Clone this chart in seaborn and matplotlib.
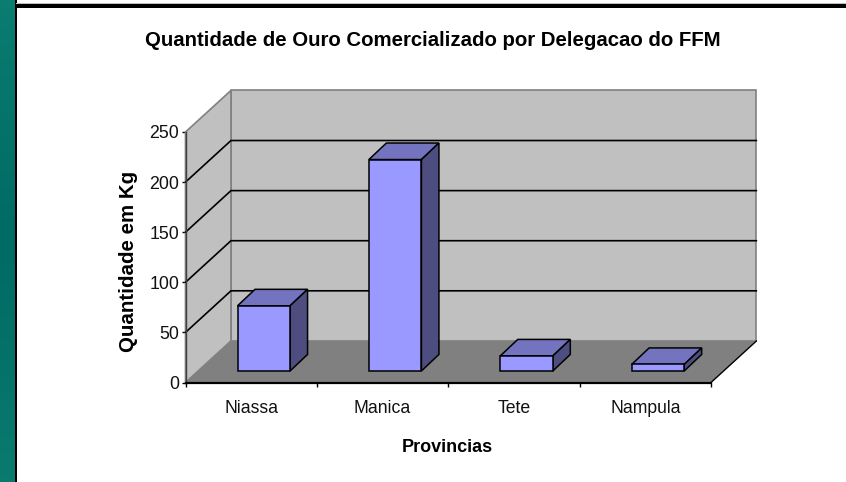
import matplotlib
matplotlib.use("Agg")
import matplotlib.pyplot as plt
from matplotlib.colors import LinearSegmentedColormap
from matplotlib.patches import Polygon, Rectangle
import numpy as np
import seaborn as sns

# Dados
provincias = ["Niassa", "Manica", "Tete", "Nampula"]
ouro_kg = [65, 211, 15, 6.5]
y_ticks = [0, 50, 100, 150, 200, 250]

titulo = "Quantidade de Ouro Comercializado por Delegacao do FFM"
x_titulo = "Provincias"
y_titulo = "Quantidade em Kg"

# Cores
WALL = "#C0C0C0"
FLOOR = "#808080"
FACE = "#9999FF"
TOP = "#7373BF"
SIDE = "#4D4D80"

W, H = 846, 482

sns.set_theme(style="white")
plt.rcParams["font.family"] = ["Liberation Sans", "DejaVu Sans"]

fig = plt.figure(figsize=(W / 100, H / 100), dpi=100, facecolor="white")

# Moldura do slide
faixa = fig.add_axes([0, 0, 15 / W, 1])
faixa.imshow(np.linspace(0, 1, 64).reshape(-1, 1), aspect="auto",
             cmap=LinearSegmentedColormap.from_list("teal", ["#0A7C70", "#006A64", "#0A7A6E"]))
faixa.axis("off")
fig.patches.append(Rectangle((15 / W, 0), 1.7 / W, 1, transform=fig.transFigure, fc="black", ec="none"))
fig.patches.append(Rectangle((16 / W, 1 - 4.3 / H), 1, 1.3 / H, transform=fig.transFigure, fc="#BDBDBD", ec="none"))
fig.patches.append(Rectangle((16 / W, 1 - 7.5 / H), 1, 3.2 / H, transform=fig.transFigure, fc="black", ec="none"))

ax = fig.add_axes([185.5 / W, 1 - 382.5 / H, 525.5 / W, 250.5 / H])

sns.barplot(x=provincias, y=ouro_kg, width=0.4, color=FACE, saturation=1,
            edgecolor="black", linewidth=1.1, zorder=5, ax=ax)

x0, x1 = -0.5, 3.5
y0, y1 = 0, 250
ax.set_xlim(x0, x1)
ax.set_ylim(y0, y1)

# Profundidade do "3D" em unidades dos eixos
dx, dy = 45.5 / 131.4, 41.5
bar_dx, bar_dy = 12.6 / 131.4, 11.5
depth_x, depth_y = 17.5 / 131.4, 16.5

# Paredes e chao
ax.add_patch(Polygon([(x0 + dx, y0 + dy), (x1 + dx, y0 + dy), (x1 + dx, y1 + dy), (x0 + dx, y1 + dy)],
                     fc=WALL, ec=FLOOR, lw=1.2, clip_on=False, zorder=1))
ax.add_patch(Polygon([(x0, y0), (x0 + dx, y0 + dy), (x0 + dx, y1 + dy), (x0, y1)],
                     fc=WALL, ec=FLOOR, lw=1.2, clip_on=False, zorder=1))
ax.add_patch(Polygon([(x0, y0), (x1, y0), (x1 + dx, y0 + dy), (x0 + dx, y0 + dy)],
                     fc=FLOOR, ec="none", clip_on=False, zorder=2))
ax.plot([x1, x1 + dx], [y0, y0 + dy], color="black", lw=1, clip_on=False, zorder=2)

# Linhas de grade (parede esquerda + fundo)
for t in y_ticks[1:-1]:
    ax.plot([x0, x0 + dx, x1 + dx], [t, t + dy, t + dy], color="black", lw=1.2,
            clip_on=False, zorder=2, solid_joinstyle="miter")

# Barras: desloca a face e acrescenta topo e lado
for bar in list(ax.containers[0]):
    bar.set_x(bar.get_x() + bar_dx)
    bar.set_y(bar.get_y() + bar_dy)
    bar.set_clip_on(False)
    l, r = bar.get_x(), bar.get_x() + bar.get_width()
    b, t = bar.get_y(), bar.get_y() + bar.get_height()
    ax.add_patch(Polygon([(l, t), (r, t), (r + depth_x, t + depth_y), (l + depth_x, t + depth_y)],
                         fc=TOP, ec="black", lw=1.1, clip_on=False, zorder=4))
    ax.add_patch(Polygon([(r, b), (r + depth_x, b + depth_y), (r + depth_x, t + depth_y), (r, t)],
                         fc=SIDE, ec="black", lw=1.1, clip_on=False, zorder=4))

# Eixos
sns.despine(ax=ax, top=True, right=True)
ax.spines["left"].set_color("#404040")
ax.spines["left"].set_linewidth(1)
ax.spines["bottom"].set_color("black")
ax.spines["bottom"].set_linewidth(1.6)
ax.spines["left"].set_zorder(3)
ax.spines["bottom"].set_zorder(3)

ax.set_yticks(y_ticks)
ax.set_xticks(range(len(provincias)))
ax.set_xticklabels(provincias)
ax.set_xticks([x0 + i for i in range(len(provincias) + 1)], minor=True)
ax.tick_params(axis="x", which="major", length=0, pad=12.5, labelsize=12.7, labelcolor="#111111")
ax.tick_params(axis="x", which="minor", bottom=True, length=3, width=1, color="black")
ax.tick_params(axis="y", left=True, length=3, width=1, color="black", pad=1.5, labelsize=12.8, labelcolor="#111111")
ax.set_xlabel("")
ax.set_ylabel("")

fig.text(433 / W, 1 - 41 / H, titulo, ha="center", va="center", fontsize=14.7, fontweight="bold", color="black")
fig.text(447 / W, 1 - 448 / H, x_titulo, ha="center", va="center", fontsize=13, fontweight="bold", color="black")
fig.text(128 / W, 1 - 261 / H, y_titulo, ha="center", va="center", rotation=90, fontsize=14.8,
         fontweight="bold", color="black")

fig.savefig("out.png", dpi=100)
